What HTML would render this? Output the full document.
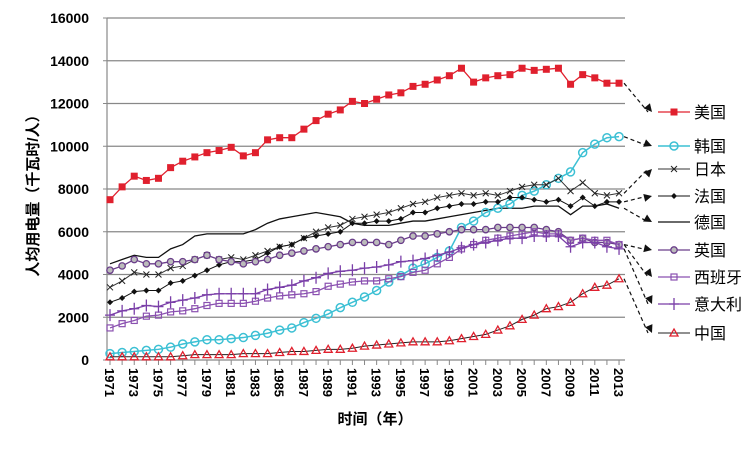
<!DOCTYPE html>
<html><head><meta charset="utf-8"><style>
body{margin:0;background:#fff;}
svg text{font-family:"Liberation Sans","Noto Sans CJK SC",sans-serif;font-weight:bold;fill:#000;}
</style></head><body>
<svg id="s" width="750" height="449" xmlns="http://www.w3.org/2000/svg"></svg>
<script>
const s=document.getElementById('s');let h='';
const X=y=>110+(y-1971)*12.12, Y=v=>360-v*342/16000;
for(let v=0;v<=16000;v+=2000){h+=`<line x1="107" x2="625" y1="${Y(v)}" y2="${Y(v)}" stroke="#888" stroke-width="1.2"/><line x1="103" x2="107" y1="${Y(v)}" y2="${Y(v)}" stroke="#888"/><text x="89" y="${Y(v)+5}" font-size="14" text-anchor="end">${v}</text>`;}
h+=`<line x1="107" x2="107" y1="18" y2="360" stroke="#888" stroke-width="1.2"/>`;
for(let y=1971;y<=2013;y++){h+=`<line x1="${X(y)}" x2="${X(y)}" y1="360" y2="365" stroke="#888"/>`;
if(y%2)h+=`<text transform="translate(${X(y)-5},368) rotate(90)" font-size="13">${y}</text>`;}
h+=`<text x="375" y="424" font-size="15" text-anchor="middle">时间（年）</text>`;
h+=`<text transform="translate(38,192) rotate(-90)" font-size="15" text-anchor="middle">人均用电量（千瓦时/人）</text>`;
const D={
us:[7500,8100,8600,8400,8500,9000,9300,9500,9700,9800,9950,9550,9700,10300,10400,10400,10800,11200,11500,11700,12100,12000,12200,12400,12500,12800,12900,13100,13300,13650,13000,13200,13300,13350,13650,13550,13600,13650,12900,13350,13200,12950,12950],
kr:[300,350,400,450,500,600,750,850,950,950,1000,1050,1150,1250,1400,1500,1750,1950,2150,2450,2700,2950,3250,3650,3950,4300,4500,4800,5100,6200,6500,6900,7100,7300,7700,7900,8200,8500,8800,9700,10100,10400,10450],
jp:[3400,3700,4100,4000,4000,4300,4400,4700,4900,4700,4800,4700,4900,5100,5300,5400,5700,6000,6200,6300,6600,6700,6800,6900,7100,7300,7400,7600,7700,7800,7700,7800,7700,7900,8100,8200,8200,8500,7900,8300,7800,7700,7800],
fr:[2700,2900,3200,3250,3250,3600,3700,3950,4200,4450,4600,4600,4700,5000,5300,5400,5700,5800,5900,6000,6400,6400,6500,6500,6600,6900,6900,7100,7200,7300,7300,7400,7400,7600,7600,7500,7400,7500,7200,7600,7200,7400,7400],
de:[4500,4700,4900,4800,4800,5200,5400,5800,5900,5900,5900,5900,6100,6400,6600,6700,6800,6900,6800,6700,6400,6300,6300,6300,6400,6500,6500,6600,6700,6800,6900,7000,7100,7100,7100,7200,7200,7200,6800,7200,7200,7300,7100],
uk:[4200,4400,4700,4500,4500,4600,4600,4700,4900,4700,4600,4500,4600,4700,4900,5000,5100,5200,5300,5400,5500,5500,5500,5400,5600,5800,5800,5900,6000,6100,6100,6100,6200,6200,6200,6200,6100,6000,5600,5700,5500,5500,5400],
es:[1500,1700,1850,2050,2100,2250,2300,2400,2550,2650,2650,2650,2750,2900,3000,3050,3100,3200,3450,3550,3650,3700,3700,3800,3900,4100,4200,4500,4800,5200,5400,5600,5700,5800,5900,6000,5900,5900,5600,5700,5600,5600,5400],
it:[2100,2300,2400,2550,2500,2700,2800,2900,3050,3100,3100,3100,3100,3300,3400,3500,3700,3850,4050,4150,4200,4300,4350,4450,4600,4650,4750,4900,5050,5250,5400,5500,5600,5700,5700,5800,5800,5800,5300,5500,5500,5300,5200],
cn:[150,150,150,150,150,150,200,250,250,250,250,300,300,300,350,400,400,450,500,500,550,650,700,750,800,850,850,850,900,1000,1100,1200,1400,1600,1900,2100,2400,2500,2700,3100,3400,3500,3800]};
function mk(t,x,y,c){
 if(t=='sq')return `<rect x="${x-3.5}" y="${y-3.5}" width="7" height="7" fill="#e0202e"/>`;
 if(t=='ci')return `<circle cx="${x}" cy="${y}" r="4" fill="none" stroke="#3cc0d4" stroke-width="1.5"/>`;
 if(t=='x')return `<path d="M${x-3} ${y-3}L${x+3} ${y+3}M${x-3} ${y+3}L${x+3} ${y-3}" stroke="#222" stroke-width="1"/>`;
 if(t=='di')return `<path d="M${x} ${y-3}L${x+3} ${y}L${x} ${y+3}L${x-3} ${y}Z" fill="#111"/>`;
 if(t=='uk')return `<circle cx="${x}" cy="${y}" r="3.2" fill="#bbb" stroke="#6a3d8a" stroke-width="1.3"/>`;
 if(t=='es')return `<rect x="${x-3}" y="${y-3}" width="6" height="6" fill="none" stroke="#8a50b0" stroke-width="1.2"/>`;
 if(t=='pl')return `<path d="M${x-5} ${y}H${x+5}M${x} ${y-6}V${y+6}" stroke="#7a3fa8" stroke-width="1.3"/>`;
 if(t=='tr')return `<path d="M${x} ${y-4}L${x+4} ${y+3}L${x-4} ${y+3}Z" fill="none" stroke="#e0202e" stroke-width="1.3"/>`;
 return '';}
const S=[['de','#111','',222,'德国',1.3],['us','#e0202e','sq',112,'美国',1.3],['kr','#3cc0d4','ci',146,'韩国',1.5],['jp','#333','x',169,'日本',1],['fr','#111','di',196,'法国',1],['uk','#6a3d8a','uk',250,'英国',1.3],['es','#8a50b0','es',277,'西班牙',1.3],['it','#7a3fa8','pl',304,'意大利',1.3],['cn','#222','tr',333,'中国',1]];
for(const [k,c,m,ly,nm,w] of S){const d=D[k];
 h+=`<polyline fill="none" stroke="${c}" stroke-width="${w}" points="${d.map((v,i)=>X(1971+i)+','+Y(v)).join(' ')}"/>`;
 d.forEach((v,i)=>h+=mk(m,X(1971+i),Y(v),c));
 const x0=X(2013)+5,y0=Y(d[42]);
 const ang=Math.atan2(ly-y0,648-x0);
 h+=`<line x1="${x0}" y1="${y0}" x2="${648}" y2="${ly}" stroke="#111" stroke-width="1.2" stroke-dasharray="4,3"/>`;
 const ax=652,ay=ly+4*Math.sin(ang);
 h+=`<path d="M${ax} ${ly} L${ax-8*Math.cos(ang)+4*Math.sin(ang)} ${ly-8*Math.sin(ang)-4*Math.cos(ang)} L${ax-8*Math.cos(ang)-4*Math.sin(ang)} ${ly-8*Math.sin(ang)+4*Math.cos(ang)}Z" fill="#111"/>`;
 h+=`<line x1="658" x2="690" y1="${ly}" y2="${ly}" stroke="${c}" stroke-width="${w}"/>`+mk(m,674,ly,c);
 h+=`<text x="694" y="${ly+6}" font-size="16" font-weight="normal" style="font-weight:normal">${nm}</text>`;}
s.innerHTML=h;
</script>
</body></html>
